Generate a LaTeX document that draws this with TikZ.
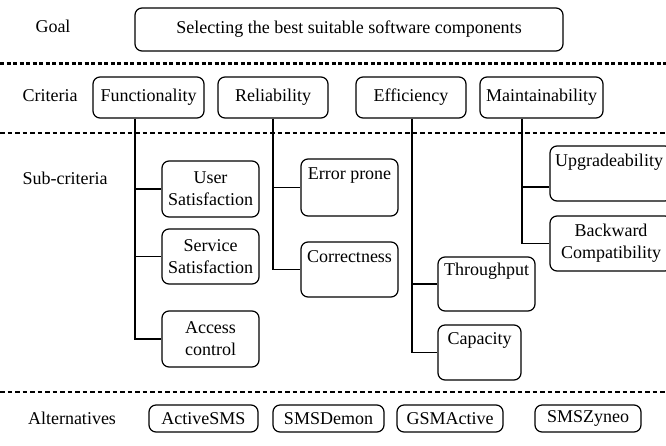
\documentclass[tikz,border=0pt]{standalone}
\usepackage{fontspec}
\newfontfamily\tmsfont{LiberationSerif}[Extension=.ttf, UprightFont=*-Regular]
\begin{document}
\begin{tikzpicture}[x=1pt,y=-1pt,
  font=\tmsfont\fontsize{18}{22}\selectfont,
  box/.style={draw, rounded corners=7pt, line width=1.2pt, inner sep=0pt, align=center},
  conn/.style={line width=1.2pt},
  sep1/.style={line width=3pt, dash pattern=on 4pt off 2.5pt},
  sep2/.style={line width=1.2pt, dash pattern=on 4.5pt off 3pt},
  lbl/.style={inner sep=0pt, anchor=center}
]
\clip (0,0) rectangle (666,445);
% row labels
\node[lbl] (lgoal) at (53,26) {Goal};
\node[lbl] (lcrit) at (50,96) {Criteria};
\node[lbl] (lsub) at (65,178) {Sub-criteria};
\node[lbl] (lalt) at (72,418) {Alternatives};
% separators
\draw[sep1] (0,63) -- (666,63);
\draw[sep2] (0,133) -- (666,133);
\draw[sep2] (0,392) -- (666,392);
% goal
\node[box, minimum width=428pt, minimum height=43pt] (goal) at (349,29.5) {Selecting the best suitable software components};
% criteria
\node[box, minimum width=111pt, minimum height=41pt] (func) at (148.5,97.5) {Functionality};
\node[box, minimum width=110pt, minimum height=41pt] (rel) at (273,97.5) {Reliability};
\node[box, minimum width=110pt, minimum height=41pt] (eff) at (411,97.5) {Efficiency};
\node[box, minimum width=123pt, minimum height=41pt] (maint) at (541.5,97.5) {Maintainability};
% sub-criteria
\node[box, minimum width=97pt, minimum height=56pt] (us) at (210.5,189) {User\\Satisfaction};
\node[box, minimum width=97pt, minimum height=55pt] (ss) at (210.5,256.5) {Service\\Satisfaction};
\node[box, minimum width=97pt, minimum height=56pt] (ac) at (210.5,339) {Access\\control};
\node[box, minimum width=97pt, minimum height=57pt,
  label={[anchor=north, inner sep=0pt, yshift=-9pt]north:Error prone}] (ep) at (349.5,187.5) {};
\node[box, minimum width=97pt, minimum height=55pt,
  label={[anchor=north, inner sep=0pt, yshift=-9pt]north:Correctness}] (co) at (349.5,269.5) {};
\node[box, minimum width=97pt, minimum height=54pt,
  label={[anchor=north, inner sep=0pt, yshift=-6pt]north:Throughput}] (th) at (486.5,284) {};
\node[box, minimum width=83pt, minimum height=55pt,
  label={[anchor=north, inner sep=0pt, yshift=-8pt]north:Capacity}] (ca) at (479.5,352.5) {};
\node[box, minimum width=122pt, minimum height=55pt,
  label={[anchor=north, inner sep=0pt, yshift=-8pt, xshift=-2pt]north:Upgradeability}] (up) at (611,173.5) {};
\node[box, minimum width=122pt, minimum height=55pt] (bc) at (611,243.5) {Backward\\Compatibility};
% alternatives
\node[box, minimum width=109pt, minimum height=27pt] (as) at (203.5,418.5) {ActiveSMS};
\node[box, minimum width=111pt, minimum height=27pt] (sd) at (328.5,418.5) {SMSDemon};
\node[box, minimum width=106pt, minimum height=27pt] (ga) at (450,418.5) {GSMActive};
\node[box, minimum width=106pt, minimum height=27pt] (sz) at (588,418.5) {SMSZyneo};
% connectors
\coordinate (fx) at (135,0);
\coordinate (rx) at (273,0);
\coordinate (ex) at (412,0);
\coordinate (mx) at (522,0);
\coordinate (upb) at ([yshift=-13.5pt]up.west);
\draw[conn] (func.south -| fx) |- (ac.west);
\draw[conn] (fx |- us.west) -- (us.west);
\draw[conn] (fx |- ss.west) -- (ss.west);
\draw[conn] (rel.south -| rx) |- (co.west);
\draw[conn] (rx |- ep.west) -- (ep.west);
\draw[conn] (eff.south -| ex) |- (ca.west);
\draw[conn] (ex |- th.west) -- (th.west);
\draw[conn] (maint.south -| mx) |- (bc.west);
\draw[conn] (mx |- upb) -- (upb);
\end{tikzpicture}
\end{document}
